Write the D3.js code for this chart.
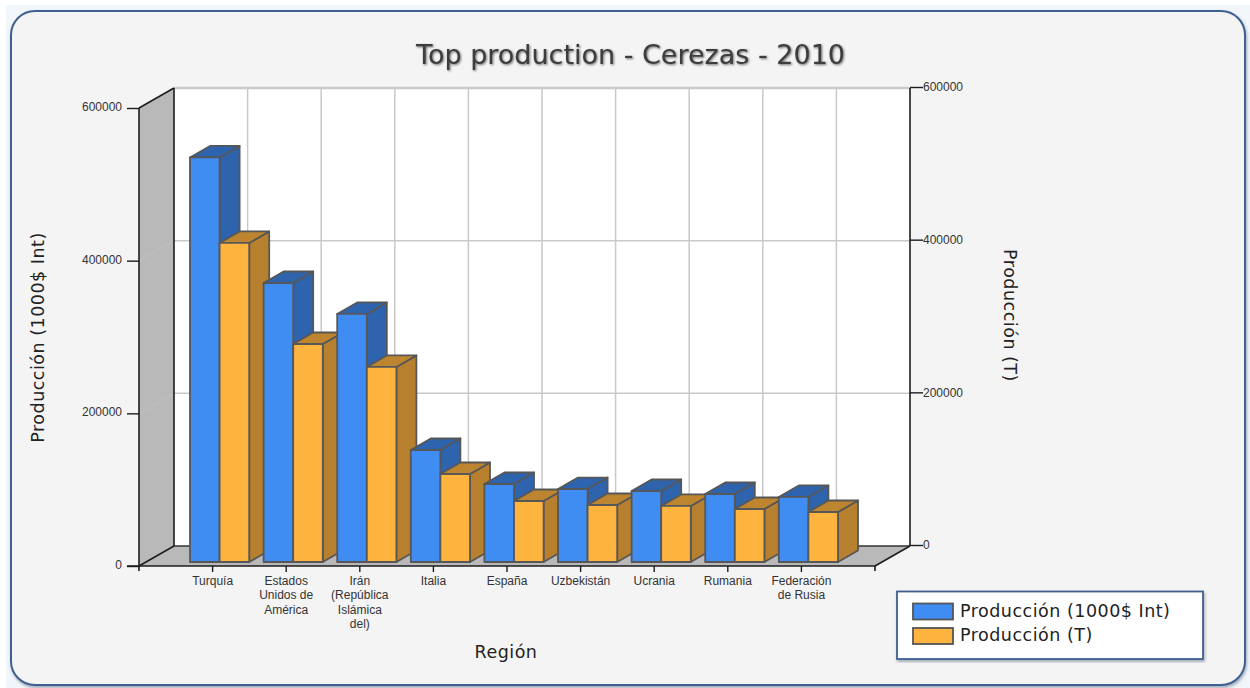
<!DOCTYPE html>
<html>
<head>
<meta charset="utf-8">
<script src="https://cdn.jsdelivr.net/npm/d3@7"></script>
<style>
html, body { margin: 0; padding: 0; background: #fff; }
svg { display: block; }
</style>
</head>
<body>
<svg id="chart" width="1250" height="688"></svg>
<script>
// Cherry production, 2010, by region
const titleText = "Top production - Cerezas - 2010";
const regions = ["Turquía", "Estados Unidos de América", "Irán (República Islámica del)", "Italia", "España", "Uzbekistán", "Ucrania", "Rumania", "Federación de Rusia"];
const regionLabelLines = [["Turquía"], ["Estados", "Unidos de", "América"], ["Irán", "(República", "Islámica", "del)"], ["Italia"], ["España"], ["Uzbekistán"], ["Ucrania"], ["Rumania"], ["Federación", "de Rusia"]];
const seriesNames = ["Producción (1000$ Int)", "Producción (T)"];
const productionValue = [530000, 365500, 325000, 146700, 102200, 95600, 93000, 89100, 85200];
const productionTonnes = [418000, 285600, 255500, 115300, 79900, 74700, 73400, 69400, 65500];
const axisTicks = [0, 200000, 400000, 600000];
const axisMax = 600000;

const frontFill = ["#3f8cf3", "#ffb43f"];
const sideFill = ["#2e63ae", "#b6802e"];
const topFill = ["#2e63ae", "#bd852f"];

const svg = d3.select("#chart");
const defs = svg.append("defs");
const shadow = defs.append("filter").attr("id", "panelShadow")
  .attr("x", "-5%").attr("y", "-5%").attr("width", "110%").attr("height", "110%");
shadow.append("feDropShadow").attr("dx", 1).attr("dy", 2).attr("stdDeviation", 1.6)
  .attr("flood-color", "#5a6a80").attr("flood-opacity", 0.55);
const titleShadow = defs.append("filter").attr("id", "titleShadow")
  .attr("x", "-5%").attr("y", "-20%").attr("width", "110%").attr("height", "140%");
titleShadow.append("feDropShadow").attr("dx", 1).attr("dy", 1).attr("stdDeviation", 0.8)
  .attr("flood-color", "#333").attr("flood-opacity", 0.7);

// Page tint behind the panel, then the outer rounded panel
svg.append("rect").attr("x", 6).attr("y", 5).attr("width", 1244).attr("height", 683).attr("fill", "#f1f6fb");
svg.append("rect").attr("x", 11).attr("y", 11).attr("width", 1234).attr("height", 674)
  .attr("rx", 24).attr("ry", 24)
  .attr("fill", "#f4f4f4").attr("stroke", "#41618f").attr("stroke-width", 2)
  .attr("filter", "url(#panelShadow)");

// Plot box: front plane of the 3D projection, plus the depth offset to the back wall
const plot = { left: 139, right: 875, top: 108, bottom: 566 };
const depth = { dx: 35, dy: -20 };

// Categories sit on the interior ticks of a ten-step axis
const x = d3.scalePoint().domain(regions).range([plot.left, plot.right]).padding(1);
const y = d3.scaleLinear().domain([0, axisMax]).range([plot.bottom, plot.top]);
const yBack = d3.scaleLinear().domain([0, axisMax]).range([plot.bottom + depth.dy, plot.top + depth.dy]);

// Back wall
const wall = svg.append("g");
wall.append("rect")
  .attr("x", plot.left + depth.dx).attr("y", yBack(axisMax))
  .attr("width", plot.right - plot.left).attr("height", yBack(0) - yBack(axisMax))
  .attr("fill", "#fff");

// Gridlines on the back wall
const gridColor = "#c9c9c9";
wall.selectAll("line.hgrid").data(axisTicks.slice(1)).join("line").attr("class", "hgrid")
  .attr("x1", plot.left + depth.dx).attr("x2", plot.right + depth.dx)
  .attr("y1", d => yBack(d)).attr("y2", d => yBack(d))
  .attr("stroke", gridColor).attr("stroke-width", d => d === axisMax ? 2.6 : 1.5);
wall.selectAll("line.vgrid").data(regions).join("line").attr("class", "vgrid")
  .attr("x1", d => x(d) + depth.dx).attr("x2", d => x(d) + depth.dx)
  .attr("y1", yBack(axisMax)).attr("y2", yBack(0))
  .attr("stroke", gridColor).attr("stroke-width", 1.5);

// Side wall and floor
wall.append("polygon")
  .attr("points", [[plot.left, y(0)], [plot.left, y(axisMax)], [plot.left + depth.dx, yBack(axisMax)], [plot.left + depth.dx, yBack(0)]].join(" "))
  .attr("fill", "#b9b9b9");
wall.append("polygon")
  .attr("points", [[plot.left, y(0)], [plot.left + depth.dx, yBack(0)], [plot.right + depth.dx, yBack(0)], [plot.right, y(0)]].join(" "))
  .attr("fill", "#b9b9b9");
wall.selectAll("line.sidegrid").data(axisTicks.slice(1, -1)).join("line").attr("class", "sidegrid")
  .attr("x1", plot.left).attr("x2", plot.left + depth.dx)
  .attr("y1", d => y(d)).attr("y2", d => yBack(d))
  .attr("stroke", "#c0c0c0").attr("stroke-width", 1);
wall.append("line")
  .attr("x1", plot.left + depth.dx).attr("x2", plot.right + depth.dx)
  .attr("y1", yBack(0)).attr("y2", yBack(0))
  .attr("stroke", "#333").attr("stroke-width", 1.3);

// Frame edges of the projected box
const edge = "#1c1c1c";
const edges = [
  [[plot.left, y(axisMax)], [plot.left, y(0) + 5]],
  [[plot.left, y(axisMax)], [plot.left + depth.dx, yBack(axisMax)]],
  [[plot.left + depth.dx, yBack(axisMax)], [plot.left + depth.dx, yBack(0)]],
  [[plot.left, y(0)], [plot.left + depth.dx, yBack(0)]],
  [[plot.left - 12, y(0)], [plot.right, y(0)]],
  [[plot.right, y(0)], [plot.right + depth.dx, yBack(0)]],
  [[plot.right, y(0)], [plot.right, y(0) + 5]],
  [[plot.right + depth.dx, yBack(axisMax)], [plot.right + depth.dx, yBack(0)]]
];

// Bars: each series occupies half of the cluster, set back a little from the front plane
const barInset = { dx: 7, dy: -4 };
const barDepth = { dx: 20, dy: -11.5 };
const barWidth = 29.6;

const facePoints = (i, s, v) => {
  const x0 = x(regions[i]) - barWidth + barInset.dx + s * barWidth;
  const x1 = x0 + barWidth;
  const y0 = y(0) + barInset.dy;
  const y1 = y(v) + barInset.dy;
  const d = barDepth;
  return {
    front: [[x0, y0], [x0, y1], [x1, y1], [x1, y0]],
    side: [[x1, y0], [x1, y1], [x1 + d.dx, y1 + d.dy], [x1 + d.dx, y0 + d.dy]],
    top: [[x0, y1], [x0 + d.dx, y1 + d.dy], [x1 + d.dx, y1 + d.dy], [x1, y1]]
  };
};

const barStroke = "#575757";
regions.forEach((region, i) => {
  [productionValue, productionTonnes].forEach((series, s) => {
    const g = svg.append("g").attr("class", "bar");
    const f = facePoints(i, s, series[i]);
    g.append("polygon").attr("points", f.side.join(" ")).attr("fill", sideFill[s]);
    g.append("polygon").attr("points", f.top.join(" ")).attr("fill", topFill[s]);
    g.append("polygon").attr("points", f.front.join(" ")).attr("fill", frontFill[s]);
    g.selectAll("polygon").attr("stroke", barStroke).attr("stroke-width", 1.8).attr("stroke-linejoin", "round");
  });
});

svg.append("g").selectAll("line").data(edges).join("line")
  .attr("x1", d => d[0][0]).attr("y1", d => d[0][1])
  .attr("x2", d => d[1][0]).attr("y2", d => d[1][1])
  .attr("stroke", edge).attr("stroke-width", 1.6);

const tickFont = "Liberation Sans, Arial, sans-serif";
const tickColor = "#333";

// Left value axis
const leftAxis = d3.axisLeft(y).tickValues(axisTicks).tickFormat(d3.format("d")).tickSize(12).tickPadding(5);
const gLeft = svg.append("g").attr("transform", `translate(${plot.left},0)`).call(leftAxis);
gLeft.select(".domain").remove();
gLeft.selectAll(".tick line").attr("stroke", edge).attr("stroke-width", 1.4);
gLeft.selectAll(".tick text").attr("font-family", tickFont).attr("font-size", 12).attr("fill", tickColor).attr("y", -1.5);

// Right value axis, on the back plane
const rightAxis = d3.axisRight(yBack).tickValues(axisTicks).tickFormat(d3.format("d")).tickSize(13).tickPadding(0);
const gRight = svg.append("g").attr("transform", `translate(${plot.right + depth.dx},-1)`).call(rightAxis);
gRight.select(".domain").remove();
gRight.selectAll(".tick line").attr("stroke", edge).attr("stroke-width", 1.4);
gRight.selectAll(".tick text").attr("font-family", tickFont).attr("font-size", 12).attr("fill", tickColor);

// Category ticks and wrapped labels
const catG = svg.append("g").selectAll("g").data(regions).join("g")
  .attr("transform", d => `translate(${x(d)},${y(0)})`);
catG.append("line").attr("y1", 0).attr("y2", 6).attr("stroke", edge).attr("stroke-width", 1.4);
catG.append("text")
  .attr("text-anchor", "middle").attr("font-family", tickFont).attr("font-size", 12).attr("fill", tickColor)
  .selectAll("tspan").data((d, i) => regionLabelLines[i]).join("tspan")
  .attr("x", 0).attr("y", (d, j) => 18.5 + j * 14.6).text(d => d);

// Titles
const labelFont = "DejaVu Sans, Verdana, sans-serif";
const labelSpacing = 0.5;
svg.append("text").attr("x", 630.5).attr("y", 64).attr("text-anchor", "middle")
  .attr("font-family", labelFont).attr("font-size", 27).attr("fill", "#3c3c3c")
  .attr("filter", "url(#titleShadow)").text(titleText);
svg.append("text").attr("x", 506).attr("y", 658).attr("text-anchor", "middle")
  .attr("font-family", labelFont).attr("font-size", 17.5).attr("letter-spacing", labelSpacing).attr("fill", "#222").text("Región");
svg.append("text").attr("transform", "translate(44,337.5) rotate(-90)").attr("text-anchor", "middle")
  .attr("font-family", labelFont).attr("font-size", 17.5).attr("letter-spacing", labelSpacing).attr("fill", "#222").text(seriesNames[0]);
svg.append("text").attr("transform", "translate(1004,315.5) rotate(90)").attr("text-anchor", "middle")
  .attr("font-family", labelFont).attr("font-size", 17.5).attr("letter-spacing", labelSpacing).attr("fill", "#222").text(seriesNames[1]);

// Legend
const legend = svg.append("g").attr("transform", "translate(897,591.5)");
legend.append("rect").attr("width", 306).attr("height", 67.5)
  .attr("fill", "#fff").attr("stroke", "#41618f").attr("stroke-width", 1.8)
  .attr("filter", "url(#panelShadow)");
const legendRow = legend.selectAll("g").data(seriesNames).join("g")
  .attr("transform", (d, i) => `translate(16,${12 + i * 24.5})`);
legendRow.append("rect").attr("width", 40).attr("height", 16)
  .attr("fill", (d, i) => frontFill[i]).attr("stroke", "#555").attr("stroke-width", 1.8);
legendRow.append("text").attr("x", 47).attr("y", 13)
  .attr("font-family", labelFont).attr("font-size", 17.5).attr("letter-spacing", labelSpacing).attr("fill", "#222").text(d => d);
</script>
</body>
</html>
